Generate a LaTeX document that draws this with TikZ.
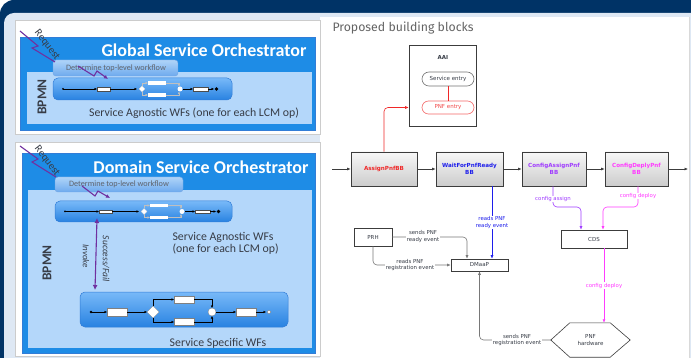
\documentclass[tikz,border=0pt]{standalone}
\usepackage{fontspec}
\setmainfont{Carlito}
\newfontfamily\dv{DejaVu Sans}
\newfontfamily\fira{Fira Sans}
\usetikzlibrary{arrows.meta,shadows}
\definecolor{frameblue}{RGB}{0,51,102}
\definecolor{paleband}{RGB}{222,232,244}
\definecolor{imgblue}{RGB}{30,140,230}
\definecolor{innerpale}{RGB}{180,215,250}
\definecolor{purp}{RGB}{112,48,160}
\definecolor{darktxt}{RGB}{55,60,70}
\definecolor{lgray}{RGB}{120,120,120}
\definecolor{boxline}{RGB}{60,60,60}
\definecolor{bbred}{RGB}{240,40,40}
\definecolor{bbblue}{RGB}{30,30,235}
\definecolor{bbpurple}{RGB}{160,60,255}
\definecolor{bbmag}{RGB}{255,60,255}
\definecolor{bartop}{RGB}{120,185,248}
\definecolor{barbot}{RGB}{40,130,225}
\definecolor{barline}{RGB}{50,125,215}
\definecolor{tabtop}{RGB}{175,212,248}
\definecolor{tabbot}{RGB}{110,170,238}
\definecolor{titlegray}{RGB}{100,100,100}
\newcommand\miniflow[1]{%
\begin{scope}[shift={#1}]
 \fill[black] (63,0) circle (1pt);
 \draw[mini] (63,0) -- (97,0);
 \draw[black!70,fill=white,line width=0.3pt] (97,-1.8) rectangle (110,1.8);
 \draw[mini] (110,0) -- (137,0);
 \draw[fill=white,draw=white!80!black,line width=0.3pt] (139,0) -- (142,-3) -- (145,0) -- (142,3) -- cycle;
 \draw[minigray] (142,-3) |- (148,-6);
 \draw[minigray] (142,3) |- (148,6);
 \fill[white] (148,-7.8) rectangle (166,-4.2);
 \fill[white] (148,4.2) rectangle (166,7.8);
 \draw[minigray] (166,-6) -| (179,-2.5);
 \draw[minigray] (166,6) -| (179,2.5);
 \fill[white] (180,0) circle (2.5pt);
 \draw[mini] (182.5,0) -- (193,0);
 \draw[black!70,fill=white,line width=0.3pt] (193,-1.8) rectangle (208,1.8);
 \draw[mini] (208,0) -- (214,0);
 \fill[black] (216.5,0) circle (1.8pt);
\end{scope}}
\tikzset{
  mini/.style={line width=0.4pt,black,-{Latex[length=2.5pt,width=2.5pt]}},
  minigray/.style={line width=0.4pt,white!75!black,-{Latex[length=2.5pt,width=2.5pt]}},
  bar/.style={rounded corners=5pt,top color=bartop,bottom color=barbot,draw=barline,line width=0.5pt},
  tabbox/.style={rounded corners=3pt,top color=tabtop,bottom color=tabbot,draw=barline!70,line width=0.4pt},
  ttl/.style={white,font=\bfseries\fontsize{18}{18}\selectfont,anchor=base},
  tabtxt/.style={text=darktxt!80,font=\fontsize{8.2}{9}\selectfont},
  bpmn/.style={text=darktxt,font=\bfseries\fontsize{13.5}{14}\selectfont,rotate=90},
  wftxt/.style={text=darktxt,font=\fontsize{11.8}{12.5}\selectfont},
  zig/.style={purp,line width=1.1pt},
  reqtxt/.style={text=darktxt,font=\fontsize{10.5}{11}\selectfont,rotate=-52},
  bb/.style={draw=boxline,line width=0.7pt,top color=black!3,bottom color=black!20,
    minimum height=34pt,inner sep=1pt,align=center,
    font=\dv\bfseries\fontsize{5.6}{6.6}\selectfont,
    drop shadow={opacity=0.25,shadow xshift=1pt,shadow yshift=-1pt}},
  plainbox/.style={draw=boxline,line width=0.6pt,fill=white,inner sep=1pt,
    font=\dv\fontsize{5.5}{6.5}\selectfont,text=darktxt},
  lab/.style={font=\dv\fontsize{5.4}{6.2}\selectfont,fill=white,inner sep=0.6pt,align=center,text=darktxt},
  arr/.style={-{Latex[length=3.5pt,width=3pt]},line width=0.6pt},
}
\begin{document}
\begin{tikzpicture}[x=1pt,y=-1pt]
\useasboundingbox (0,0) rectangle (691,358);
% frame
\fill[white] (0,0) rectangle (691,358);
\fill[frameblue,rounded corners=14pt] (0,0) rectangle (720,400);
\fill[paleband,rounded corners=10pt] (4,13) rectangle (720,400);
\fill[white] (320,17) rectangle (689,358);
\draw[black!15,line width=0.8pt] (689.5,17) -- (689.5,358);
% ---------- image 1 : Global ----------
\fill[white,draw=black!20,line width=0.5pt] (15,20) rectangle (320,134);
\fill[imgblue,draw=barline,line width=0.5pt] (20,37) rectangle (315,130);
\fill[innerpale] (27,72) rectangle (312,124);
\node[ttl] (t1) at (204,57) {Global Service Orchestrator};
\draw[tabbox] (53,60) rectangle (178,76);
\node[tabtxt] (tab1) at (116,68) {Determine top-level workflow};
\node[bpmn] (bp1) at (42,97) {BPMN};
\draw[bar] (53,78) rectangle (232,100);
\miniflow{(0,89)}
\node[wftxt] (w1) at (194,113) {Service Agnostic WFs (one for each LCM op)};
\draw[zig] (20,31) -- (38,46) -- (32,48) -- (55,62);
\node[reqtxt] (r1) at (47,45) {Request};
\draw[zig,-{Latex[length=4pt,width=4pt]}] (78,66) -- (94,76) -- (97,71) -- (108,79);
% ---------- image 2 : Domain ----------
\fill[white,draw=black!20,line width=0.5pt] (15,142) rectangle (320,356);
\fill[imgblue,draw=barline,line width=0.5pt] (22,153) rectangle (315,353);
\fill[innerpale] (28,190) rectangle (312,348);
\node[ttl] (t2) at (201,174) {Domain Service Orchestrator};
\draw[tabbox] (55,177) rectangle (183,192);
\node[tabtxt] (tab2) at (119,184.5) {Determine top-level workflow};
\draw[bar] (55,201) rectangle (232,222);
\miniflow{(2,211.5)}
\node[wftxt,anchor=west] (w2a) at (169,237) {Service Agnostic WFs};
\node[wftxt,anchor=west] (w2b) at (169,249) {(one for each LCM op)};
\node[bpmn] (bp2) at (47,263) {BPMN};
\draw[zig,{Latex[length=5pt,width=5pt]}-{Latex[length=5pt,width=5pt]}] (97,218) -- (95,290);
\node[text=darktxt,font=\itshape\fontsize{9.5}{10}\selectfont,rotate=-90] (sf) at (106,259) {Success/Fail};
\node[text=darktxt,font=\itshape\fontsize{9}{10}\selectfont,rotate=-90] (inv) at (86,256) {Invoke};
\draw[bar] (80,292) rectangle (288,327);
% lower flow
\fill[black] (91,312) circle (1.3pt);
\draw[mini] (91,312) -- (107,312);
\draw[black!50,fill=white,line width=0.3pt] (107,308) rectangle (127,316);
\draw[mini] (127,312) -- (147,312);
\draw[black!50,fill=white,line width=0.3pt] (147,312) -- (153,306) -- (159,312) -- (153,318) -- cycle;
\draw[mini] (153,306) |- (174,299.5);
\draw[mini] (153,318) |- (174,322);
\draw[black!50,fill=white,line width=0.3pt] (174,296) rectangle (194,303);
\draw[black!50,fill=white,line width=0.3pt] (174,318.5) rectangle (194,325.5);
\draw[mini] (194,299.5) -| (212,308);
\draw[mini] (194,322) -| (212,316);
\draw[black!50,fill=white,line width=0.3pt] (212,312) circle (4pt);
\draw[mini] (216,312) -- (236,312);
\draw[black!50,fill=white,line width=0.3pt] (236,308) rectangle (256,316);
\draw[mini] (256,312) -- (266,312);
\draw[black!50,fill=white,line width=0.3pt] (269,312) circle (1.8pt);
\node[wftxt] (w3) at (218,343) {Service Specific WFs};
\draw[zig] (20,146) -- (38,159) -- (32,162) -- (56,177);
\node[reqtxt] (r2) at (47,161) {Request};
\draw[zig,-{Latex[length=4pt,width=4pt]}] (82,186) -- (95,196) -- (98,191) -- (110,198);
% ---------- right panel ----------
\node[anchor=base west,text=titlegray,font=\fira\fontsize{12.3}{13}\selectfont] (ptitle) at (329,31.5) {Proposed building blocks};
\node[plainbox,minimum width=67pt,minimum height=81pt] (aai) at (442.5,85.5) {};
\node[font=\dv\bfseries\fontsize{5.5}{6.5}\selectfont,text=darktxt] (aailab) at (443,57) {AAI};
\node[plainbox,draw=black!55,rounded corners=7pt,minimum width=52pt,minimum height=14pt] (se) at (448,79) {Service entry};
\node[plainbox,draw=bbred!70,text=bbred!85,rounded corners=6.5pt,minimum width=52pt,minimum height=13pt] (pe) at (448,107.5) {PNF entry};
\draw[bbred,line width=0.6pt] (se) -- (pe);
\node[bb,minimum width=66pt,text=bbred] (assign) at (384,169) {AssignPnfBB};
\node[bb,minimum width=67pt,text=bbblue] (wait) at (469.5,169) {WaitForPnfReady\\BB};
\node[bb,minimum width=64pt,text=bbpurple] (cfgasg) at (554,169) {ConfigAssignPnf\\BB};
\node[bb,minimum width=63pt,text=bbmag] (cfgdep) at (636.5,169) {ConfigDeplyPnf\\BB};
\coordinate (in) at (332,169);
\coordinate (out) at (688,169);
\draw[arr,boxline] (in) -- (assign);
\draw[arr,boxline] (assign) -- (wait);
\draw[arr,boxline] (wait) -- (cfgasg);
\draw[arr,boxline] (cfgasg) -- (cfgdep);
\draw[arr,boxline] (cfgdep) -- (out);
\draw[arr,bbred,rounded corners=4pt] (assign.north) |- (aai.west |- pe);
\node[plainbox,minimum width=38pt,minimum height=18pt] (prh) at (373,237) {PRH};
\node[plainbox,minimum width=57pt,minimum height=12pt] (dmaap) at (479.5,265) {DMaaP};
\node[plainbox,minimum width=66pt,minimum height=18pt] (cds) at (594,239) {CDS};
\node[inner sep=0pt,minimum width=79pt,minimum height=34pt] (pnf) at (590.5,340) {};
\draw[boxline,line width=0.6pt,fill=white] (pnf.west) -- ([xshift=19pt]pnf.north west) -- ([xshift=-20pt]pnf.north east) -- (pnf.east) -- ([xshift=-20pt]pnf.south east) -- ([xshift=19pt]pnf.south west) -- cycle;
\node[font=\dv\fontsize{5.5}{6.5}\selectfont,text=darktxt,align=center] (pnflab) at (pnf) {PNF\\hardware};
\coordinate (bx) at (492,0);
\draw[arr,bbblue] (wait.south -| bx) -- (bx |- dmaap.north) node[lab,text=bbblue,pos=0.5] {reads PNF\\ready event};
\coordinate (gx) at (467,0);
\draw[arr,lgray,rounded corners=4pt] (prh.east) -| (gx |- dmaap.north);
\node[lab] at (423,236.5) {sends PNF\\ready event};
\draw[arr,lgray,rounded corners=4pt] (prh.south) |- (dmaap.west);
\node[lab] at (410,265) {reads PNF\\registration event};
\draw[arr,lgray,rounded corners=4pt] (pnf.west) -| (dmaap.south);
\node[lab] at (517,340) {sends PNF\\registration event};
\coordinate (ca) at (553,207);
\coordinate (cb) at (581,207);
\draw[arr,bbpurple,rounded corners=4pt] (cfgasg.south -| ca) -- (ca) -- (cb) -- (cb |- cds.north);
\node[lab,text=bbpurple] at (553,199) {config assign};
\coordinate (da) at (638,207);
\coordinate (db) at (603,207);
\draw[arr,bbmag,rounded corners=4pt] (cfgdep.south -| da) -- (da) -- (db) -- (db |- cds.north);
\node[lab,text=bbmag] at (638,196) {config deploy};
\coordinate (ex) at (604,0);
\draw[arr,bbmag] (cds.south -| ex) -- (ex |- pnf.north) node[lab,text=bbmag,pos=0.5] {config deploy};
\end{tikzpicture}
\end{document}
